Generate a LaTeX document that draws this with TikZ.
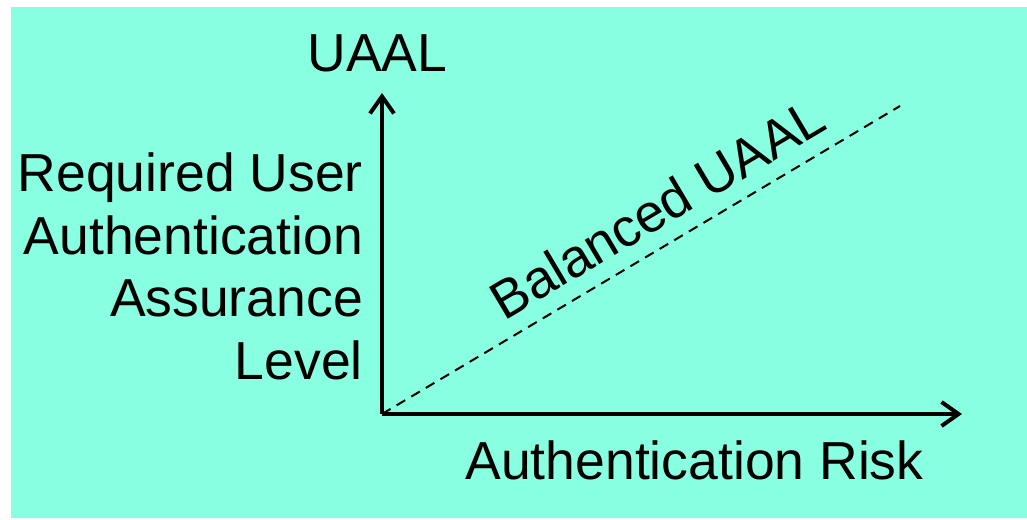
\documentclass[tikz,border=0pt]{standalone}
\usepackage{fontspec}
\setmainfont{Liberation Sans}
\usetikzlibrary{arrows.meta}
\definecolor{bgaqua}{RGB}{136,255,224}
\tikzset{
  lbl/.style={font=\fontsize{53.5}{62.7}\selectfont, inner sep=0pt, text=black},
  axis/.style={line width=4pt, -{Straight Barb[length=17pt,width=24pt]}},
  diag/.style={line width=2pt, dash pattern=on 10pt off 7pt},
}
\begin{document}
\begin{tikzpicture}[x=1pt,y=1pt]
\useasboundingbox (0,0) rectangle (1027,519);
\fill[bgaqua] (11,1) rectangle (1027,512);
\coordinate (o) at (382,105);
\coordinate (ytip) at (382,426);
\coordinate (xtip) at (962,105);
\coordinate (dend) at (900,413);
\draw[axis] (o) -- (ytip);
\draw[axis] (o) -- (xtip);
\draw[diag] (o) -- (dend);
\node[lbl, anchor=base] (uaal) at (377.5,447) {UAAL};
\node[lbl, anchor=base] (risk) at (694.5,39) {Authentication Risk};
\node[lbl, anchor=north east, align=right] (req) at (363,366.5) {Required User\\Authentication\\Assurance\\Level};
\node[lbl, anchor=base, rotate=30.7] (bal) at (667,294.2) {Balanced UAAL};
\end{tikzpicture}
\end{document}
